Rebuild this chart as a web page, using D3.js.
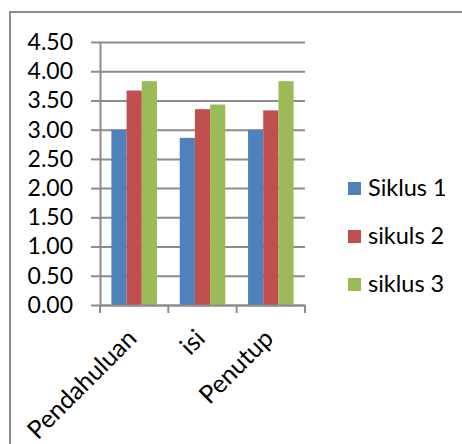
<!DOCTYPE html>
<html>
<head>
<meta charset="utf-8">
<script src="https://cdn.jsdelivr.net/npm/d3@7"></script>
<style>
  body { margin: 0; background: #fff; }
  svg { display: block; }
</style>
</head>
<body>
<main></main>
<script>
const width = 462;
const height = 444;

const categories = ['Pendahuluan', 'isi', 'Penutup'];
const seriesNames = ['Siklus 1', 'sikuls 2', 'siklus 3'];
const siklus1 = [3.00, 2.86, 3.00];
const sikuls2 = [3.67, 3.35, 3.33];
const siklus3 = [3.83, 3.43, 3.83];
const yTicks = [0, 0.5, 1, 1.5, 2, 2.5, 3, 3.5, 4, 4.5];
const colors = ['#4f81bd', '#c0504d', '#9bbb59'];

const series = [siklus1, sikuls2, siklus3];
const font = 'Lato, "Open Sans", sans-serif';
const gridColor = '#8c8c8c';

// plot area
const plotLeft = 100;
const plotRight = 305;
const plotTop = 42;
const plotBottom = 305;

const svg = d3.select('main')
  .append('svg')
  .attr('width', width)
  .attr('height', height)

// chart border (only left and top show in the crop)
svg.append('rect')
  .attr('x', 10)
  .attr('y', 12)
  .attr('width', 600)
  .attr('height', 600)
  .style('fill', 'none')
  .style('stroke', gridColor)
  .style('stroke-width', 2)

const xScale = d3.scaleBand()
  .domain(categories)
  .range([plotLeft, plotRight])

const xSub = d3.scaleBand()
  .domain(seriesNames)
  .range([0, xScale.bandwidth()])
  .paddingOuter(0.75)

const yScale = d3.scaleLinear()
  .domain([0, 4.5])
  .range([plotBottom, plotTop])

// gridlines
svg.append('g')
  .attr('transform', `translate(${plotLeft}, 0)`)
  .call(d3.axisLeft(yScale).tickValues(yTicks).tickSize(-(plotRight - plotLeft)).tickFormat(''))
  .call(g => g.select('.domain').remove())
  .call(g => g.selectAll('line').style('stroke', gridColor).style('stroke-width', 2))

// y-axis
svg.append('g')
  .attr('id', 'y-axis')
  .attr('transform', `translate(${plotLeft}, 0)`)
  .call(d3.axisLeft(yScale).tickValues(yTicks).tickSize(9).tickSizeOuter(0).tickPadding(18).tickFormat(d3.format('.2f')))
  .call(g => g.select('.domain').style('stroke', gridColor).style('stroke-width', 2))
  .call(g => g.selectAll('line').style('stroke', gridColor).style('stroke-width', 2))
  .call(g => g.selectAll('text').style('font-size', '23px').style('font-family', font).style('fill', '#000'))

// Bars
const groups = svg.selectAll('.group')
  .data(categories)
  .enter()
  .append('g')
  .attr('class', 'group')
  .attr('transform', d => `translate(${xScale(d)}, 0)`)

groups.selectAll('rect')
  .data((d, i) => seriesNames.map((s, j) => ({ name: s, value: series[j][i], idx: j })))
  .enter()
  .append('rect')
  .attr('x', d => xSub(d.name))
  .attr('y', d => yScale(d.value))
  .attr('width', xSub.bandwidth())
  .attr('height', d => yScale(0) - yScale(d.value))
  .style('fill', d => colors[d.idx])

// x-axis
const xAxis = svg.append('g')
  .attr('id', 'x-axis')
  .attr('transform', `translate(0, ${plotBottom})`)
  .call(d3.axisBottom(xScale).tickSize(0).tickFormat(''))
  .call(g => g.select('.domain').style('stroke', gridColor).style('stroke-width', 2))

xAxis.selectAll('.cat-tick')
  .data(categories.map(c => xScale(c)).concat([plotRight]))
  .enter()
  .append('line')
  .attr('class', 'cat-tick')
  .attr('x1', d => d)
  .attr('x2', d => d)
  .attr('y1', 0)
  .attr('y2', 8)
  .style('stroke', gridColor)
  .style('stroke-width', 2)

// category labels
svg.selectAll('.cat-label')
  .data(categories)
  .enter()
  .append('text')
  .attr('class', 'cat-label')
  .text(d => d)
  .attr('transform', d => `translate(${xScale(d) + xScale.bandwidth() / 2 + 4}, 340) rotate(-45)`)
  .style('text-anchor', 'end')
  .style('font-size', '25px')
  .style('font-family', font)
  .style('fill', '#000')

// Legend
const legend = svg.append('g')
  .attr('id', 'legend')

const legendItems = legend.selectAll('g')
  .data(seriesNames)
  .enter()
  .append('g')
  .attr('transform', (d, i) => `translate(348, ${182 + i * 48})`)

legendItems.append('rect')
  .attr('width', 13)
  .attr('height', 13)
  .style('fill', (d, i) => colors[i])

legendItems.append('text')
  .text(d => d)
  .attr('x', 20)
  .attr('y', 14)
  .style('font-size', '23.5px')
  .style('font-family', font)
  .style('fill', '#000')
</script>
</body>
</html>
